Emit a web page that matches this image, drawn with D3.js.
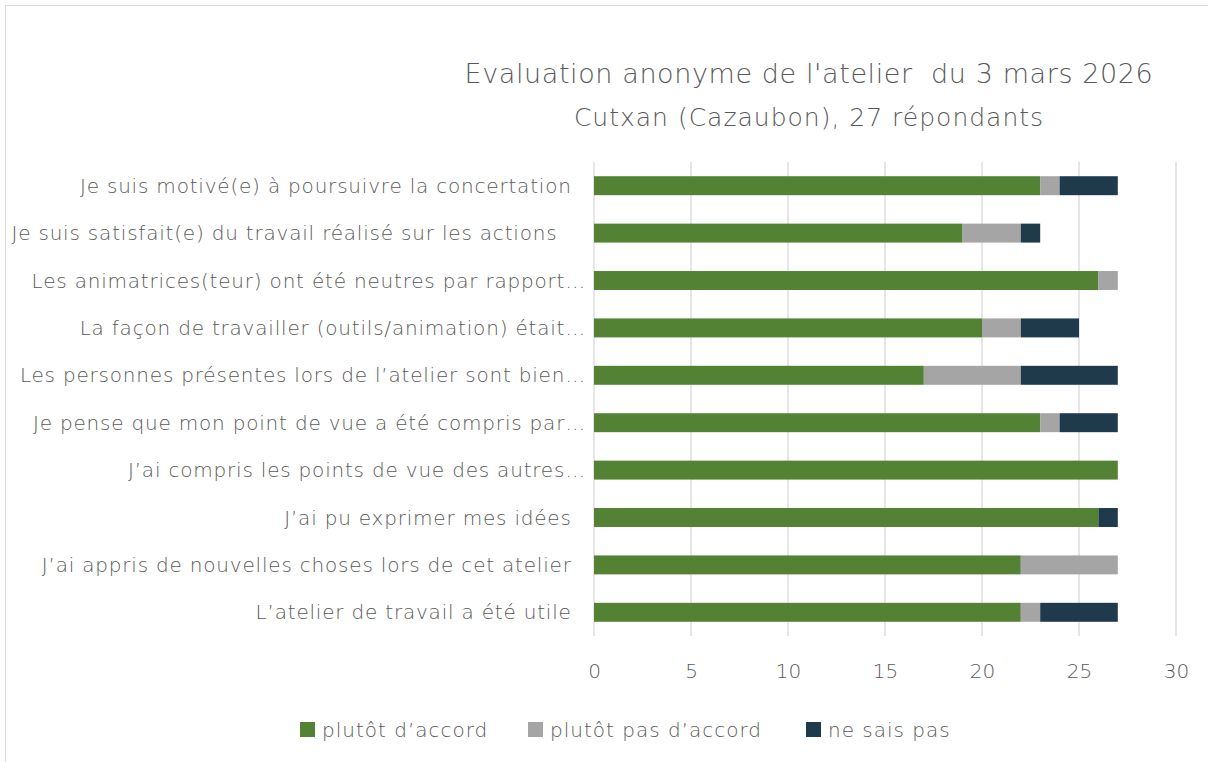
<!DOCTYPE html>
<html>
<head>
<meta charset="utf-8">
<script src="https://cdn.jsdelivr.net/npm/d3@7"></script>
<style>
  body { margin: 0; background: #fff; }
  svg text { font-family: "DejaVu Sans", sans-serif; font-weight: 200; fill: #595959; }
</style>
</head>
<body>
<svg id="chart" width="1208" height="762"></svg>
<script>
const questions = [
  "Je suis motivé(e) à poursuivre la concertation  ",
  "Je suis satisfait(e) du travail réalisé sur les actions    ",
  "Les animatrices(teur) ont été neutres par rapport…",
  "La façon de travailler (outils/animation) était…",
  "Les personnes présentes lors de l’atelier sont bien…",
  "Je pense que mon point de vue a été compris par…",
  "J’ai compris les points de vue des autres…",
  "J’ai pu exprimer mes idées  ",
  "J’ai appris de nouvelles choses lors de cet atelier  ",
  "L’atelier de travail a été utile  "
];
const accord = [23, 19, 26, 20, 17, 23, 27, 26, 22, 22];
const pasAccord = [1, 3, 1, 2, 5, 1, 0, 0, 5, 1];
const neSaisPas = [3, 1, 0, 3, 5, 3, 0, 1, 0, 4];
const seriesNames = ["plutôt d’accord", "plutôt pas d’accord", "ne sais pas"];
const seriesColors = ["#548235", "#a5a5a5", "#1f3a4a"];
const xTicks = [0, 5, 10, 15, 20, 25, 30];

const svg = d3.select("#chart");

// frame
svg.append("rect")
   .attr("x", 5.5).attr("y", 5.5)
   .attr("width", 1210).attr("height", 800)
   .attr("fill", "none").attr("stroke", "#d9d9d9");

const margin = {top: 162, left: 594, right: 32, bottom: 126};
const width = 1208 - margin.left - margin.right,
      height = 762 - margin.top - margin.bottom;

const g = svg.append("g").attr("transform", `translate(${margin.left},${margin.top})`);

const x = d3.scaleLinear().domain([0, 30]).range([0, width]);
const y = d3.scaleBand().domain(questions).range([0, height]).paddingInner(0.6).paddingOuter(0.3);

// gridlines
g.selectAll(".grid")
 .data(xTicks)
 .enter().append("line")
 .attr("x1", d => x(d)).attr("x2", d => x(d))
 .attr("y1", 0).attr("y2", height)
 .attr("stroke", "#d9d9d9").attr("stroke-width", 1.3);

const rows = questions.map((q, i) => ({q, vals: [accord[i], pasAccord[i], neSaisPas[i]]}));
const stacked = d3.stack().keys([0, 1, 2]).value((d, k) => d.vals[k])(rows);

g.selectAll(".series")
 .data(stacked)
 .enter().append("g")
 .attr("fill", (d, i) => seriesColors[i])
 .selectAll("rect")
 .data(d => d)
 .enter().append("rect")
 .attr("x", d => x(d[0]))
 .attr("y", d => y(d.data.q))
 .attr("width", d => x(d[1]) - x(d[0]))
 .attr("height", y.bandwidth());

// category labels
g.selectAll(".cat")
 .data(questions)
 .enter().append("text")
 .attr("x", -8)
 .attr("y", d => y(d) + y.bandwidth() / 2)
 .attr("dy", "0.35em")
 .attr("text-anchor", "end")
 .style("white-space", "pre")
 .style("letter-spacing", "0.8px")
 .attr("font-size", 20)
 .text(d => d);

// x axis
const xAxis = g.append("g")
 .attr("transform", `translate(0,${height})`)
 .call(d3.axisBottom(x).tickValues(xTicks).tickSize(0).tickPadding(28));
xAxis.select(".domain").remove();
xAxis.selectAll("text").attr("font-size", 20).attr("font-family", null);

// title
svg.append("text").attr("x", 809).attr("y", 83).attr("text-anchor", "middle")
   .attr("font-size", 27)
   .style("white-space", "pre")
   .style("letter-spacing", "0.6px")
   .text("Evaluation anonyme de l'atelier  du 3 mars 2026");
svg.append("text").attr("x", 809).attr("y", 126).attr("text-anchor", "middle")
   .attr("font-size", 25)
   .style("letter-spacing", "1px")
   .text("Cutxan (Cazaubon), 27 répondants");

// legend
const legendX = [300, 528, 806];
const legend = svg.selectAll(".legend")
 .data(seriesNames)
 .enter().append("g")
 .attr("transform", (d, i) => `translate(${legendX[i]},730)`);
legend.append("rect").attr("x", 0).attr("y", -8).attr("width", 15).attr("height", 15)
 .attr("fill", (d, i) => seriesColors[i]);
legend.append("text").attr("x", 22).attr("y", 0).attr("dy", "0.35em")
 .style("letter-spacing", "1px")
 .attr("font-size", 20).text(d => d);
</script>
</body>
</html>
